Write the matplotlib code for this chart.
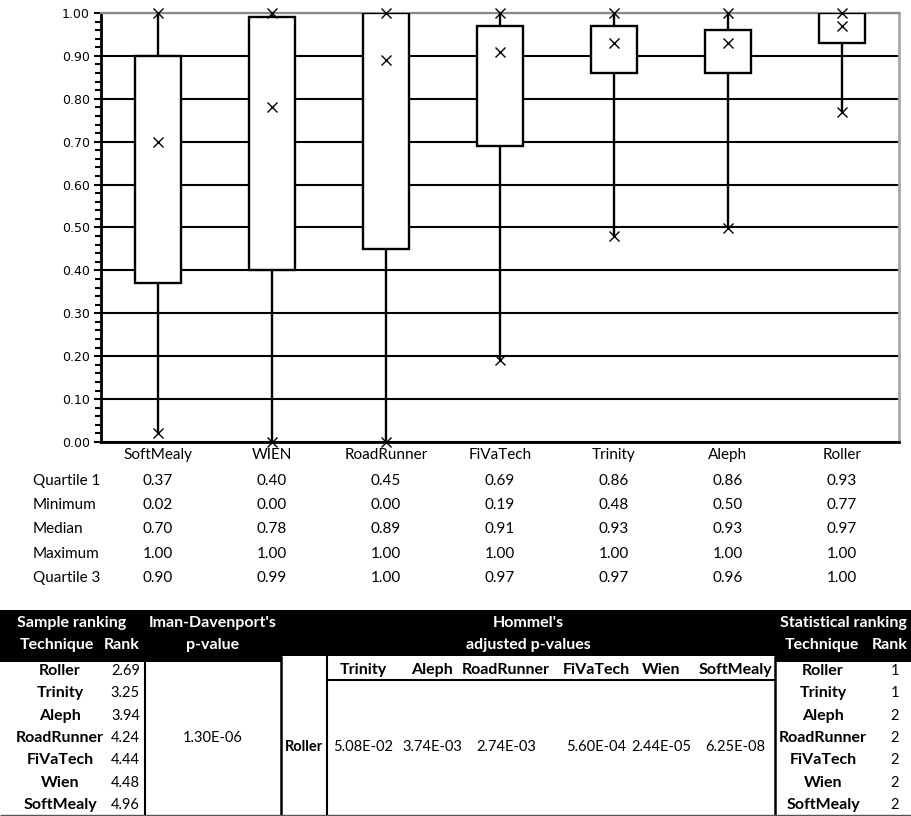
import matplotlib
matplotlib.use("Agg")
import matplotlib.pyplot as plt
from matplotlib.ticker import MultipleLocator, FormatStrFormatter
from matplotlib.transforms import blended_transform_factory

# box plot data
techniques = ["SoftMealy", "WIEN", "RoadRunner", "FiVaTech", "Trinity", "Aleph", "Roller"]
quartile1 = [0.37, 0.40, 0.45, 0.69, 0.86, 0.86, 0.93]
minimum = [0.02, 0.00, 0.00, 0.19, 0.48, 0.50, 0.77]
median = [0.70, 0.78, 0.89, 0.91, 0.93, 0.93, 0.97]
maximum = [1.00, 1.00, 1.00, 1.00, 1.00, 1.00, 1.00]
quartile3 = [0.90, 0.99, 1.00, 0.97, 0.97, 0.96, 1.00]

# ranking table data
sample_tech = ["Roller", "Trinity", "Aleph", "RoadRunner", "FiVaTech", "Wien", "SoftMealy"]
sample_rank = [2.69, 3.25, 3.94, 4.24, 4.44, 4.48, 4.96]
iman_davenport = "1.30E-06"
hommel_control = "Roller"
hommel_vs = ["Trinity", "Aleph", "RoadRunner", "FiVaTech", "Wien", "SoftMealy"]
hommel_p = ["5.08E-02", "3.74E-03", "2.74E-03", "5.60E-04", "2.44E-05", "6.25E-08"]
stat_tech = ["Roller", "Trinity", "Aleph", "RoadRunner", "FiVaTech", "Wien", "SoftMealy"]
stat_rank = [1, 1, 2, 2, 2, 2, 2]

W, H = 912, 816
UI = "Lato"

fig = plt.figure(figsize=(W / 100, H / 100), dpi=100)

# overlay in pixel coordinates for the tables
ov = fig.add_axes([0, 0, 1, 1])
ov.set_xlim(0, W)
ov.set_ylim(H, 0)
ov.axis("off")

ax = fig.add_axes([101 / W, (H - 442) / H, 798 / W, 429 / H])
x = list(range(len(techniques)))

ax.set_axisbelow(True)
ax.yaxis.grid(True, which="major", color="black", lw=1.5)

# whiskers
ax.vlines(x, minimum, quartile1, color="black", lw=1.7, zorder=2)
ax.vlines(x, quartile3, maximum, color="black", lw=1.7, zorder=2)
# boxes
heights = [b - a for a, b in zip(quartile1, quartile3)]
ax.bar(x, heights, bottom=quartile1, width=0.4, color="white",
       edgecolor="black", linewidth=1.7, zorder=3)
# markers
for vals in (minimum, median, maximum):
    ax.plot(x, vals, ls="none", marker="x", ms=7, mew=1.0, color="black",
            zorder=4, clip_on=False)

ax.set_xlim(-0.5, len(techniques) - 0.5)
ax.set_ylim(0, 1)
ax.yaxis.set_major_locator(MultipleLocator(0.1))
ax.yaxis.set_minor_locator(MultipleLocator(0.02))
ax.yaxis.set_major_formatter(FormatStrFormatter("%.2f"))
ax.tick_params(axis="y", which="major", length=5, width=1.5, pad=3,
               labelsize=9, direction="out")
ax.tick_params(axis="y", which="minor", length=4, width=1.5, direction="out")
ax.set_xticks(x)
ax.set_xticklabels(techniques, fontfamily=UI, fontsize=11)
ax.tick_params(axis="x", length=0, pad=4)
for lbl in ax.get_yticklabels():
    lbl.set_fontfamily("DejaVu Sans")

ax.spines["top"].set_color("#8a8a8a")
ax.spines["top"].set_linewidth(1.6)
ax.spines["right"].set_color("#a8a8a8")
ax.spines["right"].set_linewidth(2)
ax.spines["bottom"].set_linewidth(2)
ax.spines["left"].set_linewidth(2)

# summary values under the plot
trans = blended_transform_factory(ax.transData, ov.transData)
rows = [("Quartile 1", quartile1), ("Minimum", minimum), ("Median", median),
        ("Maximum", maximum), ("Quartile 3", quartile3)]
row_y = [481, 505, 529, 554, 578]
for (name, vals), yy in zip(rows, row_y):
    ov.text(33, yy, name, fontfamily=UI, fontsize=11, ha="left", va="center")
    for xi, v in zip(x, vals):
        ov.text(xi, yy, f"{v:.2f}", transform=trans, fontfamily=UI,
                fontsize=11, ha="center", va="center")

# ranking table
ov.add_patch(plt.Rectangle((0, 610), 282, 52, color="black", lw=0))
ov.add_patch(plt.Rectangle((282, 610), 493, 46, color="black", lw=0))
ov.add_patch(plt.Rectangle((775, 610), W - 775, 52, color="black", lw=0))

hdr = dict(fontfamily=UI, fontsize=11.5, fontweight="bold", color="white",
           va="center", ha="center")
ov.text(72, 623, "Sample ranking", **hdr)
ov.text(57, 645, "Technique", **hdr)
ov.text(122, 645, "Rank", **hdr)
ov.text(213, 623, "Iman-Davenport's", **hdr)
ov.text(213, 645, "p-value", **hdr)
ov.text(528, 623, "Hommel's", **hdr)
ov.text(528, 645, "adjusted p-values", **hdr)
ov.text(843, 623, "Statistical ranking", **hdr)
ov.text(822, 645, "Technique", **hdr)
ov.text(890, 645, "Rank", **hdr)

body_y = [671, 693, 716, 738, 760, 783, 805]
bold = dict(fontfamily=UI, fontsize=11.5, fontweight="bold", va="center")
norm = dict(fontfamily=UI, fontsize=10.5, va="center")
for yy, t, r in zip(body_y, sample_tech, sample_rank):
    ov.text(60, yy, t, ha="center", **bold)
    ov.text(140, yy, f"{r:.2f}", ha="right", **norm)
for yy, t, r in zip(body_y, stat_tech, stat_rank):
    ov.text(823, yy, t, ha="center", **bold)
    ov.text(899, yy, str(r), ha="right", **norm)

ov.text(213, 738, iman_davenport, ha="center", **norm)
ov.text(304, 747, hommel_control, ha="center", fontfamily=UI, fontsize=10.5,
        fontweight="bold", va="center")
hommel_x = [363, 432, 506, 596, 661, 735]
for hx, name, p in zip(hommel_x, hommel_vs, hommel_p):
    ov.text(hx, 670, name, ha="center", **bold)
    ov.text(hx, 747, p, ha="center", **norm)

ov.vlines(145, 662, 815, color="black", lw=1.5)
ov.vlines(281, 656, 815, color="black", lw=1.8)
ov.vlines(327, 656, 815, color="black", lw=1.5)
ov.vlines(775, 656, 815, color="black", lw=1.8)
ov.hlines(680, 327, 775, color="black", lw=1.5)
ov.hlines(815, 0, W, color="#555555", lw=1.0)

fig.savefig("out.png", dpi=100)
